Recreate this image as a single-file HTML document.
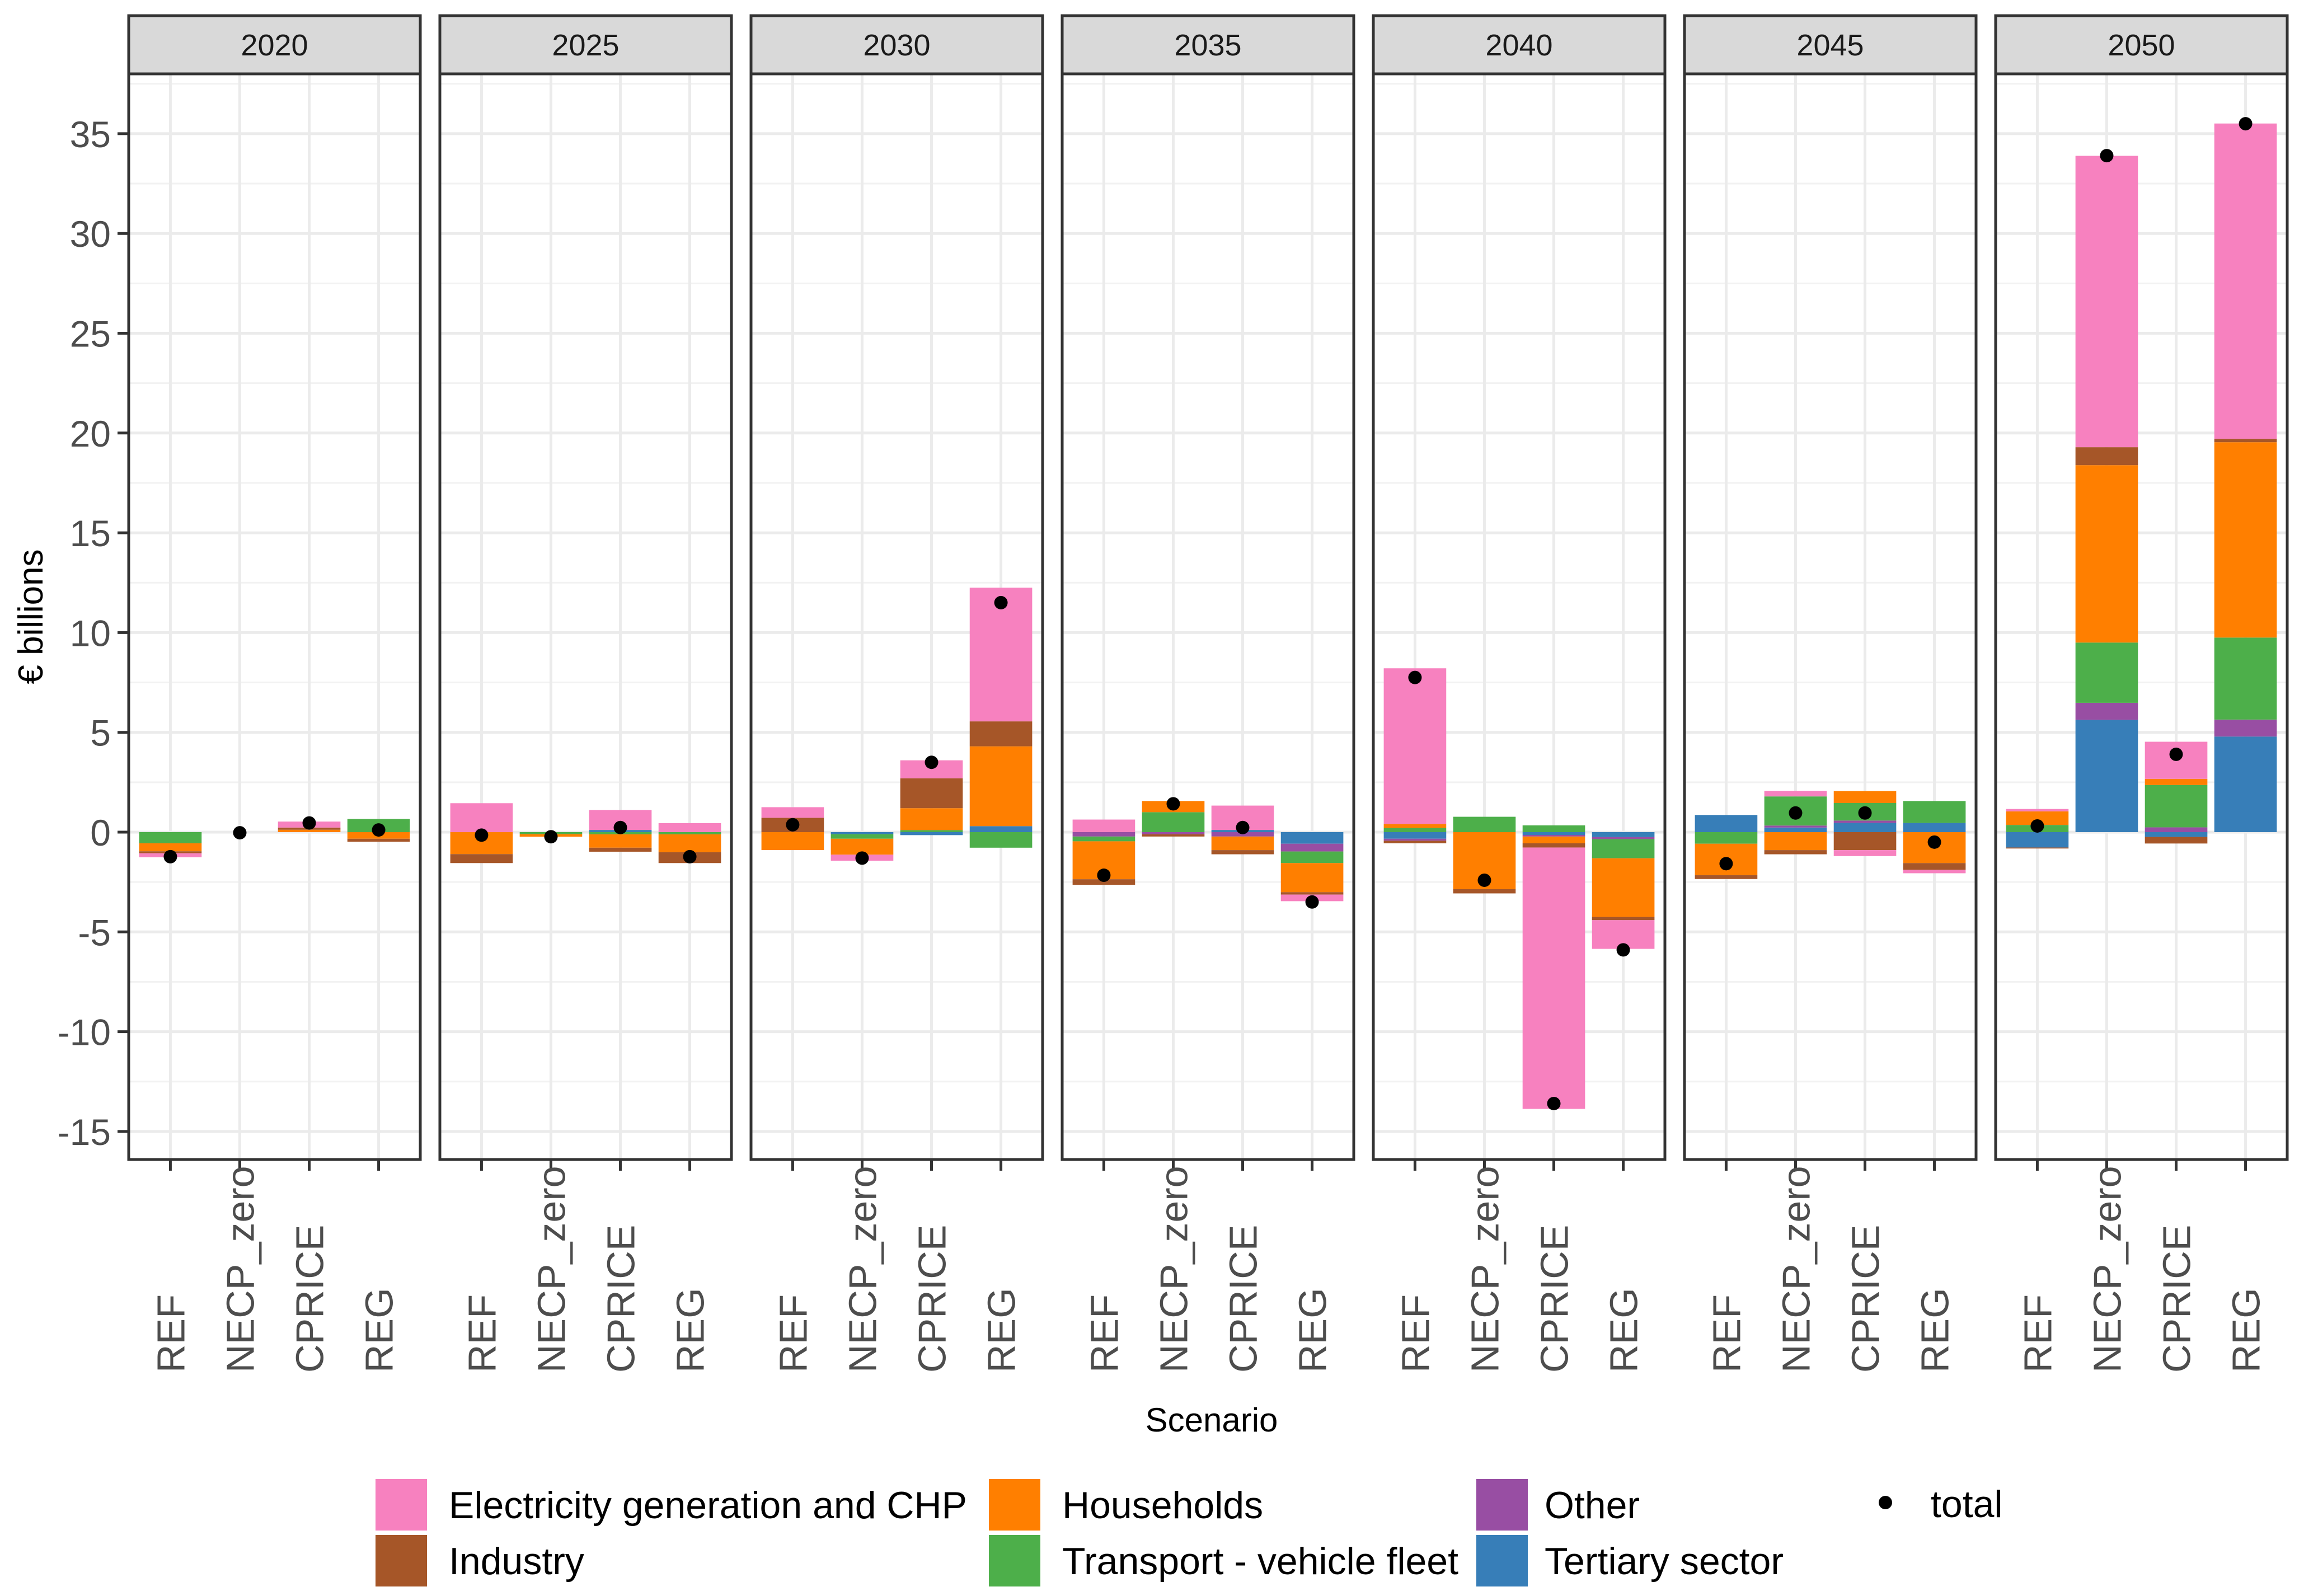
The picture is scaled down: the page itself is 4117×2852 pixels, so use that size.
<!DOCTYPE html>
<html><head><meta charset="utf-8">
<style>
html,body{margin:0;padding:0;background:#fff;}
svg{display:block;font-family:"Liberation Sans",Arial,sans-serif;}
</style></head>
<body>
<svg id="chart" width="4117" height="2852" viewBox="0 0 4117 2852" xmlns="http://www.w3.org/2000/svg"></svg>
<script>
const years = ["2020","2025","2030","2035","2040","2045","2050"];
const scenarios = ["REF","NECP_zero","CPRICE","REG"];
const sectorNames = ["Tertiary sector","Other","Transport - vehicle fleet","Households","Industry","Electricity generation and CHP"];
const sectorColors = ["#377EB8","#984EA3","#4DAF4A","#FF7F00","#A65628","#F781BF"];
// values per year, each REF, NECP_zero, CPRICE, REG
const electricity = [-0.2,0,0.3,0, 1.45,0,1.0,0.45, 0.53,-0.3,0.9,6.7, 0.63,0,1.22,-0.33, 7.8,0,-13.1,-1.44, 0,0.28,-0.3,-0.17, 0.12,14.6,1.86,15.8];
const industry = [-0.1,0,0.11,-0.15, -0.45,0,-0.2,-0.54, 0.72,0,1.5,1.25, -0.28,-0.11,-0.21,-0.12, -0.13,-0.21,-0.21,-0.16, -0.19,-0.21,-0.9,-0.34, -0.05,0.9,-0.33,0.17];
const households = [-0.4,0,0.12,-0.33, -1.1,-0.13,-0.67,-0.9, -0.9,-0.8,1.1,4.0, -1.9,0.56,-0.68,-1.46, 0.2,-2.86,-0.34,-2.94, -1.58,-0.9,0.6,-1.55, 0.68,8.89,0.31,9.79];
const transport = [-0.56,0,0,0.66, 0,-0.1,-0.11,-0.11, 0,-0.23,0.1,-0.78, -0.24,1.0,0,-0.58, 0.21,0.77,0.34,-0.96, -0.58,1.46,0.88,1.1, 0.36,3.02,2.12,4.11];
const other = [0,0,0,0, 0,0,0,0, 0,0,0,0, -0.22,-0.11,-0.22,-0.39, -0.1,0,-0.08,-0.1, 0,0.1,0.12,0, 0,0.85,0.24,0.85];
const tertiary = [0,0,0,0, 0,0,0.11,0, 0,-0.1,-0.15,0.3, 0,0,0.11,-0.58, -0.33,0,-0.14,-0.25, 0.86,0.23,0.46,0.46, -0.77,5.63,-0.24,4.79];
const totals = [-1.23,-0.03,0.46,0.11, -0.15,-0.23,0.23,-1.23, 0.37,-1.3,3.5,11.5, -2.16,1.42,0.23,-3.5, 7.75,-2.41,-13.6,-5.9, -1.58,0.96,0.96,-0.5, 0.31,33.9,3.9,35.5];
const yTicks = [35,30,25,20,15,10,5,0,-5,-10,-15];
const yTickLabels = ["35","30","25","20","15","10","5","0","-5","-10","-15"];

const svg = document.getElementById('chart');
const NS = "http://www.w3.org/2000/svg";
function mk(tag, attrs, parent){ const e=document.createElementNS(NS,tag); for(const k in attrs) e.setAttribute(k,attrs[k]); (parent||svg).appendChild(e); return e; }

const P_LEFT0=230, P_W=521, P_GAP=35, P_TOP=132, P_BOT=2072, STRIP_TOP=28;
const Y0=1487, PX_PER=35.66;
function yScale(v){ return Y0 - v*PX_PER; }
function panelLeft(i){ return P_LEFT0 + i*(P_W+P_GAP); }
const CAT_STEP = P_W/4.2;
function xScale(i,j){ return panelLeft(i) + CAT_STEP*(0.6+j); }
const BAR_W = CAT_STEP*0.9;
const seriesData = [tertiary, other, transport, households, industry, electricity];

years.forEach((yr,i)=>{
  const L = panelLeft(i);
  const g = mk('g',{});
  
  
  mk('rect',{x:L,y:P_TOP,width:P_W,height:P_BOT-P_TOP,fill:'#fff'},g);
  for(let v=-15; v<=37.5; v+=2.5){
    if(v%5===0) continue;
    const y=yScale(v); if(y<P_TOP||y>P_BOT) continue;
    mk('line',{x1:L,x2:L+P_W,y1:y,y2:y,stroke:'#F2F2F2','stroke-width':3},g);
  }
  yTicks.forEach(v=>{ const y=yScale(v); mk('line',{x1:L,x2:L+P_W,y1:y,y2:y,stroke:'#EBEBEB','stroke-width':5},g); });
  scenarios.forEach((s,j)=>{ const x=xScale(i,j); mk('line',{x1:x,x2:x,y1:P_TOP,y2:P_BOT,stroke:'#EBEBEB','stroke-width':5},g); });
  scenarios.forEach((s,j)=>{
    const idx=i*4+j; let pos=0, neg=0; const x=xScale(i,j)-BAR_W/2;
    seriesData.forEach((arr,k)=>{
      const v=arr[idx]; if(!v) return;
      let a,b; if(v>0){a=pos;b=pos+v;pos=b;} else {a=neg;b=neg+v;neg=b;}
      const r=mk('rect',{x:x,y:Math.min(yScale(a),yScale(b)),width:BAR_W,height:Math.abs(yScale(a)-yScale(b)),fill:sectorColors[k]},g);
      
      
    });
  });
  scenarios.forEach((s,j)=>{
    const c=mk('circle',{cx:xScale(i,j),cy:yScale(totals[i*4+j]),r:12,fill:'#000'},g);
    
    
  });
  mk('rect',{x:L,y:P_TOP,width:P_W,height:P_BOT-P_TOP,fill:'none',stroke:'#333','stroke-width':5},g);
  mk('rect',{x:L,y:STRIP_TOP,width:P_W,height:P_TOP-STRIP_TOP,fill:'#D9D9D9',stroke:'#333','stroke-width':5},g);
  const st=mk('text',{x:L+P_W/2,y:(STRIP_TOP+P_TOP)/2+19,'text-anchor':'middle','font-size':54,fill:'#1A1A1A'},g);
  st.textContent=yr;
  
  
  scenarios.forEach((s,j)=>{
    const x=xScale(i,j);
    mk('line',{x1:x,x2:x,y1:P_BOT,y2:P_BOT+20,stroke:'#333','stroke-width':5},g);
    const t=mk('text',{x:0,y:0,'text-anchor':'start','font-size':70,fill:'#4D4D4D',transform:'translate('+(x+25)+',2453) rotate(-90)'},g);
    t.textContent=s;
    
    
  });
});
yTicks.forEach((v,k)=>{
  const y=yScale(v);
  mk('line',{x1:210,x2:230,y1:y,y2:y,stroke:'#333','stroke-width':5});
  const t=mk('text',{x:198,y:y+24,'text-anchor':'end','font-size':66,fill:'#4D4D4D'});
  t.textContent=yTickLabels[k];
  
  
});
const yt=mk('text',{x:0,y:0,'text-anchor':'middle','font-size':62,fill:'#000',transform:'translate(76,1102) rotate(-90)'});
yt.textContent='€ billions';


const xt=mk('text',{x:2165,y:2558,'text-anchor':'middle','font-size':60,fill:'#000'});
xt.textContent='Scenario';


const legendItems=[
  {name:"Electricity generation and CHP",color:"#F781BF",x:671,y:2643},
  {name:"Industry",color:"#A65628",x:671,y:2743},
  {name:"Households",color:"#FF7F00",x:1767,y:2643},
  {name:"Transport - vehicle fleet",color:"#4DAF4A",x:1767,y:2743},
  {name:"Other",color:"#984EA3",x:2638,y:2643},
  {name:"Tertiary sector",color:"#377EB8",x:2638,y:2743}
];
legendItems.forEach(it=>{
  const g=mk('g',{});
  
  
  mk('rect',{x:it.x,y:it.y,width:92,height:92,fill:it.color},g);
  const t=mk('text',{x:it.x+(it.x>2600?122:131),y:it.y+70,'font-size':68,fill:'#000'},g);
  t.textContent=it.name;
});
const lg=mk('g',{});


mk('circle',{cx:3369,cy:2685,r:12,fill:'#000'},lg);
const lt=mk('text',{x:3450,y:2711,'font-size':68,fill:'#000'},lg);
lt.textContent='total';
</script>
</body></html>
